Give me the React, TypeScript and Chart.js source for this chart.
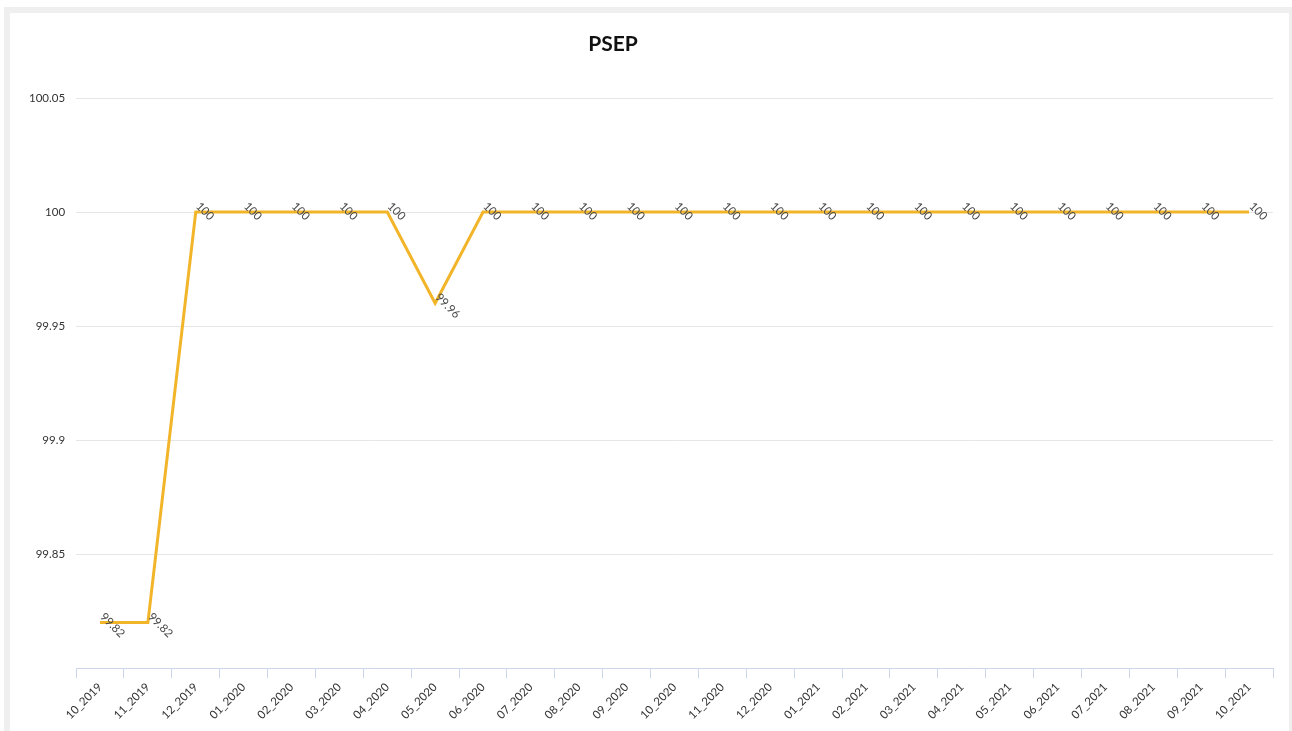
import React, { useEffect, useRef } from "react";
import { Chart, registerables } from "chart.js";

Chart.register(...registerables);

const categories: string[] = [
  "10_2019", "11_2019", "12_2019", "01_2020", "02_2020", "03_2020", "04_2020",
  "05_2020", "06_2020", "07_2020", "08_2020", "09_2020", "10_2020", "11_2020",
  "12_2020", "01_2021", "02_2021", "03_2021", "04_2021", "05_2021", "06_2021",
  "07_2021", "08_2021", "09_2021", "10_2021",
];

const psepValues: number[] = [
  99.82, 99.82, 100, 100, 100, 100, 100, 99.96, 100, 100, 100, 100, 100, 100,
  100, 100, 100, 100, 100, 100, 100, 100, 100, 100, 100,
];

const yMin = 99.8;
const yMax = 100.05;
const yStep = 0.05;
const chartTitle = "PSEP";

const FONT = "Lato, 'Open Sans', sans-serif";

const fmt = (v: number) => String(Number(v.toFixed(2)));

const dataLabelPlugin = {
  id: "rotatedDataLabels",
  afterDatasetsDraw(chart: any) {
    const ctx = chart.ctx;
    chart.data.datasets.forEach((ds: any, di: number) => {
      const meta = chart.getDatasetMeta(di);
      meta.data.forEach((pt: any, i: number) => {
        const v = ds.data[i];
        ctx.save();
        ctx.translate(pt.x, pt.y);
        ctx.rotate(Math.PI / 4);
        ctx.font = `11.5px ${FONT}`;
        ctx.fillStyle = "#4a4a4a";
        ctx.textAlign = "left";
        ctx.textBaseline = "middle";
        ctx.fillText(fmt(v), -4, -7);
        ctx.restore();
      });
    });
  },
};

const titlePlugin = {
  id: "customTitle",
  afterDraw(chart: any) {
    const ctx = chart.ctx;
    ctx.save();
    ctx.font = `bold 21px ${FONT}`;
    ctx.fillStyle = "#111";
    ctx.textAlign = "center";
    ctx.textBaseline = "middle";
    ctx.fillText(chartTitle, 603, 31);
    ctx.restore();
  },
};

export default function App() {
  const ref = useRef<HTMLCanvasElement | null>(null);

  useEffect(() => {
    if (!ref.current) return;
    const chart = new Chart(ref.current, {
      type: "line",
      data: {
        labels: categories,
        datasets: [
          {
            label: chartTitle,
            data: psepValues,
            borderColor: "#f2b52a",
            backgroundColor: "#f2b52a",
            borderWidth: 3,
            pointRadius: 0,
            pointHoverRadius: 0,
            tension: 0,
            fill: false,
          },
        ],
      },
      options: {
        responsive: false,
        animation: false,
        layout: { padding: { top: 85, left: 8, right: 16, bottom: 7 } },
        plugins: {
          legend: { display: false },
          title: { display: false },
          tooltip: { enabled: false },
        },
        scales: {
          x: {
            type: "category",
            offset: true,
            grid: {
              offset: true,
              drawOnChartArea: false,
              drawTicks: true,
              tickLength: 10,
              color: "#ccd6eb",
              lineWidth: 1,
            },
            border: { display: true, color: "#ccd6eb", width: 1 },
            ticks: {
              autoSkip: false,
              maxRotation: 45,
              minRotation: 45,
              padding: 2,
              color: "#333",
              font: { family: FONT, size: 11.5 },
            },
          },
          y: {
            min: yMin,
            max: yMax,
            grid: {
              color: "#e6e6e6",
              drawTicks: false,
              lineWidth: 1,
            },
            border: { display: false },
            ticks: {
              stepSize: yStep,
              padding: 11,
              color: "#333",
              font: { family: FONT, size: 11.5 },
              callback: (v: any) => {
                const n = Number(v);
                if (Math.abs(n - yMin) < 1e-6) return "";
                return fmt(n);
              },
            },
          },
        },
      },
      plugins: [dataLabelPlugin, titlePlugin],
    });
    return () => chart.destroy();
  }, []);

  return (
    <>
      <style>{`body{margin:0;}`}</style>
      <div
        style={{
          position: "absolute",
          left: 4,
          top: 7,
          width: 1279,
          height: 730,
          border: "6px solid #efefef",
          background: "#fff",
        }}
      >
        <canvas ref={ref} width={1279} height={718} style={{ display: "block" }} />
      </div>
    </>
  );
}
